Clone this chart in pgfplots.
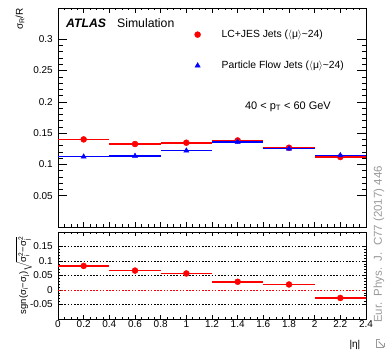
\documentclass[border=0pt]{standalone}
\usepackage{pgfplots}
\pgfplotsset{compat=1.18}
\usepackage{amsmath}
\usepackage{fontspec}
\setmainfont{Liberation Sans}
\pgfplotstableread{
x ex y
0.2 0.2 0.140
0.6 0.2 0.1326
1.0 0.2 0.1347
1.4 0.2 0.1383
1.8 0.2 0.1267
2.2 0.2 0.1118
}\lcjes
\pgfplotstableread{
x ex y
0.2 0.2 0.1123
0.6 0.2 0.1134
1.0 0.2 0.1219
1.4 0.2 0.1358
1.8 0.2 0.1250
2.2 0.2 0.1144
}\pflow
\pgfplotstableread{
x ex y ey
0.2 0.2 0.083 0.004
0.6 0.2 0.067 0.004
1.0 0.2 0.057 0.004
1.4 0.2 0.0284 0.005
1.8 0.2 0.019 0.008
2.2 0.2 -0.0274 0.004
}\diffs
\pgfplotsset{
  rootstyle/.style={
    scale only axis, width=308bp,
    xmin=0, xmax=2.4,
    xtick={0,0.2,0.4,0.6,0.8,1,1.2,1.4,1.6,1.8,2,2.2,2.4},
    minor x tick num=3,
    minor y tick num=4,
    scaled ticks=false,
    tick label style={font=\fontsize{10}{12}\selectfont},
    yticklabel style={xshift=-1.7bp},
    xticklabel style={yshift=2.3bp},
    tick style={black, line width=0.6bp},
    axis line style={line width=0.8bp},
    clip mode=individual,
  }
}
\begin{document}
\begin{tikzpicture}
\useasboundingbox (0,0) rectangle (387bp,351bp);
\begin{axis}[rootstyle,
  name=top, at={(58bp,124bp)}, anchor=south west,
  height=219bp,
  ymin=0, ymax=0.35,
  xticklabels={},
  ytick={0.05,0.1,0.15,0.2,0.25,0.3},
  yticklabels={0.05,0.1,0.15,0.2,0.25,0.3},
  xtick style={/pgfplots/major tick length=5bp,/pgfplots/minor tick length=2.5bp},
  ytick style={/pgfplots/major tick length=9bp,/pgfplots/minor tick length=4.5bp},
  legend style={at={(0.443,0.909)}, anchor=north west, draw=none, fill=none,
    font=\fontsize{10.4}{12}\selectfont, row sep=18bp, inner sep=0pt},
  legend cell align=left,
]
\addplot[only marks, mark=*, red, mark size=3bp,
  error bars/.cd, x dir=both, x explicit, error mark=none,
  error bar style={line width=1.6bp, red}]
  table[x=x, y=y, x error=ex]{\lcjes};
\addlegendentry{\hspace{19bp}LC+JES Jets (\ensuremath{\langle}μ\ensuremath{\rangle}\textasciitilde 24)}
\addplot[only marks, mark=triangle*, blue, mark size=3bp,
  error bars/.cd, x dir=both, x explicit, error mark=none,
  error bar style={line width=1.2bp, blue}]
  table[x=x, y=y, x error=ex]{\pflow};
\addlegendentry{\hspace{19bp}Particle Flow Jets (\ensuremath{\langle}μ\ensuremath{\rangle}\textasciitilde 24)}
\node[anchor=west, inner sep=0, font=\fontsize{12.3}{14}\selectfont] at (rel axis cs:0.026,0.93)
  {\textbf{\textit{ATLAS}}\hspace{11bp}Simulation};
\node[anchor=west, inner sep=0, font=\fontsize{11}{13}\selectfont] at (rel axis cs:0.607,0.55)
  {40 < p\textsubscript{T} < 60 GeV};
\node[rotate=90, anchor=east, inner sep=0, font=\fontsize{10}{12}\selectfont]
  at ([xshift=-38bp]rel axis cs:0,1) {σ\textsubscript{R}/R};
\end{axis}
\begin{axis}[rootstyle,
  name=bot, at={(58bp,32bp)}, anchor=south west,
  height=87bp,
  ymin=-0.1, ymax=0.2,
  xticklabels={0,0.2,0.4,0.6,0.8,1,1.2,1.4,1.6,1.8,2,2.2,2.4},
  ytick={-0.05,0,0.05,0.1,0.15},
  yticklabels={-0.05,0,0.05,0.1,0.15},
  xtick style={/pgfplots/major tick length=4bp,/pgfplots/minor tick length=2bp},
  ytick style={/pgfplots/major tick length=4bp,/pgfplots/minor tick length=2bp},
]
\addplot[black, line width=0.6bp, dash pattern=on 1.6bp off 1.6bp] coordinates {(0,0.15) (2.4,0.15)};
\addplot[black, line width=0.6bp, dash pattern=on 1.6bp off 1.6bp] coordinates {(0,0.1) (2.4,0.1)};
\addplot[black, line width=0.6bp, dash pattern=on 1.6bp off 1.6bp] coordinates {(0,0.05) (2.4,0.05)};
\addplot[black, line width=0.6bp, dash pattern=on 1.6bp off 1.6bp] coordinates {(0,-0.05) (2.4,-0.05)};
\addplot[red, line width=0.6bp, dash pattern=on 1.6bp off 1.6bp] coordinates {(0,0) (2.4,0)};
\addplot[only marks, mark=*, red, mark size=3bp,
  error bars/.cd, x dir=both, x explicit, y dir=both, y explicit, error mark=none,
  error bar style={line width=1.6bp, red}]
  table[x=x, y=y, x error=ex, y error=ey]{\diffs};
\node[rotate=90, anchor=center, inner sep=0, font=\fontsize{9.5}{11}\selectfont]
  at ([xshift=-34bp]rel axis cs:0,0.5) {sgn(σ\textsubscript{i}−σ\textsubscript{j})$\sqrt{\text{σ}_{\text{i}}^{\text{2}}\text{−}\text{σ}_{\text{j}}^{\text{2}}}$};
\node[anchor=center, inner sep=0, font=\fontsize{10}{12}\selectfont]
  at ([yshift=-26bp]rel axis cs:0.964,0) {|η|};
\end{axis}
\node[rotate=90, anchor=west, inner sep=0, text=black!40, font=\fontsize{11.5}{13}\selectfont]
  at (379bp,28bp) {Eur.\ \ Phys.\ \ J.\ \ C77 (2017) 446};
\draw[black!40, line width=0.8bp] (384bp,4bp) -- (376bp,4bp) -- (376bp,12bp) -- (380bp,12bp);
\draw[black!40, line width=0.8bp] (378.5bp,9.5bp) -- (384bp,4bp);
\draw[black!40, line width=0.8bp] (384bp,4bp) -- (384bp,8bp);
\end{tikzpicture}
\end{document}
